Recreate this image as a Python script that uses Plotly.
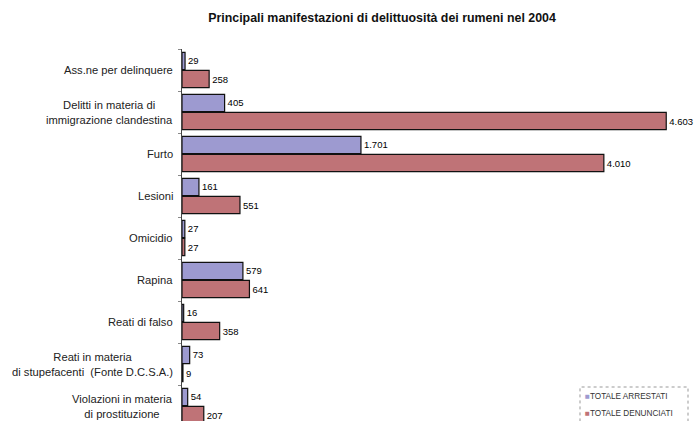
import plotly.graph_objects as go

# Reati contestati a cittadini rumeni, anno 2004
categorie = [
    "Ass.ne per delinquere",
    "Delitti in materia di<br>immigrazione clandestina",
    "Furto",
    "Lesioni",
    "Omicidio",
    "Rapina",
    "Reati di falso",
    "Reati in materia<br>di stupefacenti  (Fonte D.C.S.A.)",
    "Violazioni in materia<br>di prostituzione",
]
arrestati = [29, 405, 1701, 161, 27, 579, 16, 73, 54]
denunciati = [258, 4603, 4010, 551, 27, 641, 358, 9, 207]

serie = ["TOTALE ARRESTATI", "TOTALE DENUNCIATI"]
colori = ["#9d9ad0", "#bf7377"]

FONT = "Liberation Sans, Arial, sans-serif"
W, H = 696, 421
ML, MR, MT, MB = 182, 6, 49, 0
plot_w = W - ML - MR
plot_h = H - MT - MB
banda = 42.0  # altezza in px di ogni categoria
y_max = plot_h / banda - 0.5

fig = go.Figure()
for nome, valori, col in zip(serie, [arrestati, denunciati], colori):
    fig.add_trace(go.Bar(
        name=nome,
        y=categorie,
        x=valori,
        orientation="h",
        marker=dict(color=col, line=dict(color="#111111", width=1.2)),
        texttemplate="%{x:,}",
        textposition="outside",
        textfont=dict(family=FONT, size=9.5, color="#000000"),
        constraintext="none",
        cliponaxis=False,
        showlegend=False,
    ))

# etichette delle categorie, centrate riga per riga
annotazioni = []
for c in categorie:
    annotazioni.append(dict(
        x=-7 / plot_w, xref="paper", y=c, yref="y",
        text=c, showarrow=False, xanchor="right", yanchor="middle",
        align="center",
        font=dict(family=FONT, size=11.2, color="#222222"),
    ))

# legenda compatta in basso a destra
leg_x0 = (580 - ML) / plot_w
leg_x1 = (688 - ML) / plot_w
leg_top = (H - 387) / plot_h
righe_y = [(H - 396) / plot_h, (H - 413) / plot_h]
for nome, col, yy in zip(serie, colori, righe_y):
    annotazioni.append(dict(
        x=leg_x0 + 3 / plot_w, xref="paper", y=yy, yref="paper",
        text=f"<span style='color:{col}'>■</span>{nome}",
        showarrow=False, xanchor="left", yanchor="middle",
        font=dict(family=FONT, size=8.2, color="#333333"),
    ))

fig.update_layout(
    width=W, height=H,
    margin=dict(l=ML, r=MR, t=MT, b=MB),
    paper_bgcolor="white", plot_bgcolor="white",
    separators=",.",
    barmode="group",
    bargap=0.14,
    bargroupgap=0.05,
    title=dict(
        text="<b>Principali manifestazioni di delittuosità dei rumeni nel 2004</b>",
        x=382 / W, xanchor="center", y=1 - 18 / H, yanchor="middle",
        font=dict(family=FONT, size=12.4, color="#111111"),
    ),
    xaxis=dict(
        range=[0, plot_w / 0.1052],
        showgrid=False, zeroline=False, showline=False,
        showticklabels=False, ticks="",
    ),
    yaxis=dict(
        type="category",
        categoryorder="array", categoryarray=categorie,
        range=[y_max, -0.5],
        showgrid=False, zeroline=False,
        showline=True, linecolor="#444444", linewidth=1,
        ticks="outside", tickson="boundaries", ticklen=3, tickcolor="#888888",
        showticklabels=False,
    ),
    annotations=annotazioni,
    shapes=[dict(
        type="rect", xref="paper", yref="paper",
        x0=leg_x0, x1=leg_x1, y0=-0.05, y1=leg_top,
        line=dict(color="#999999", width=1, dash="dot"),
        fillcolor="rgba(0,0,0,0)",
    )],
)

fig.write_html("out.html")
